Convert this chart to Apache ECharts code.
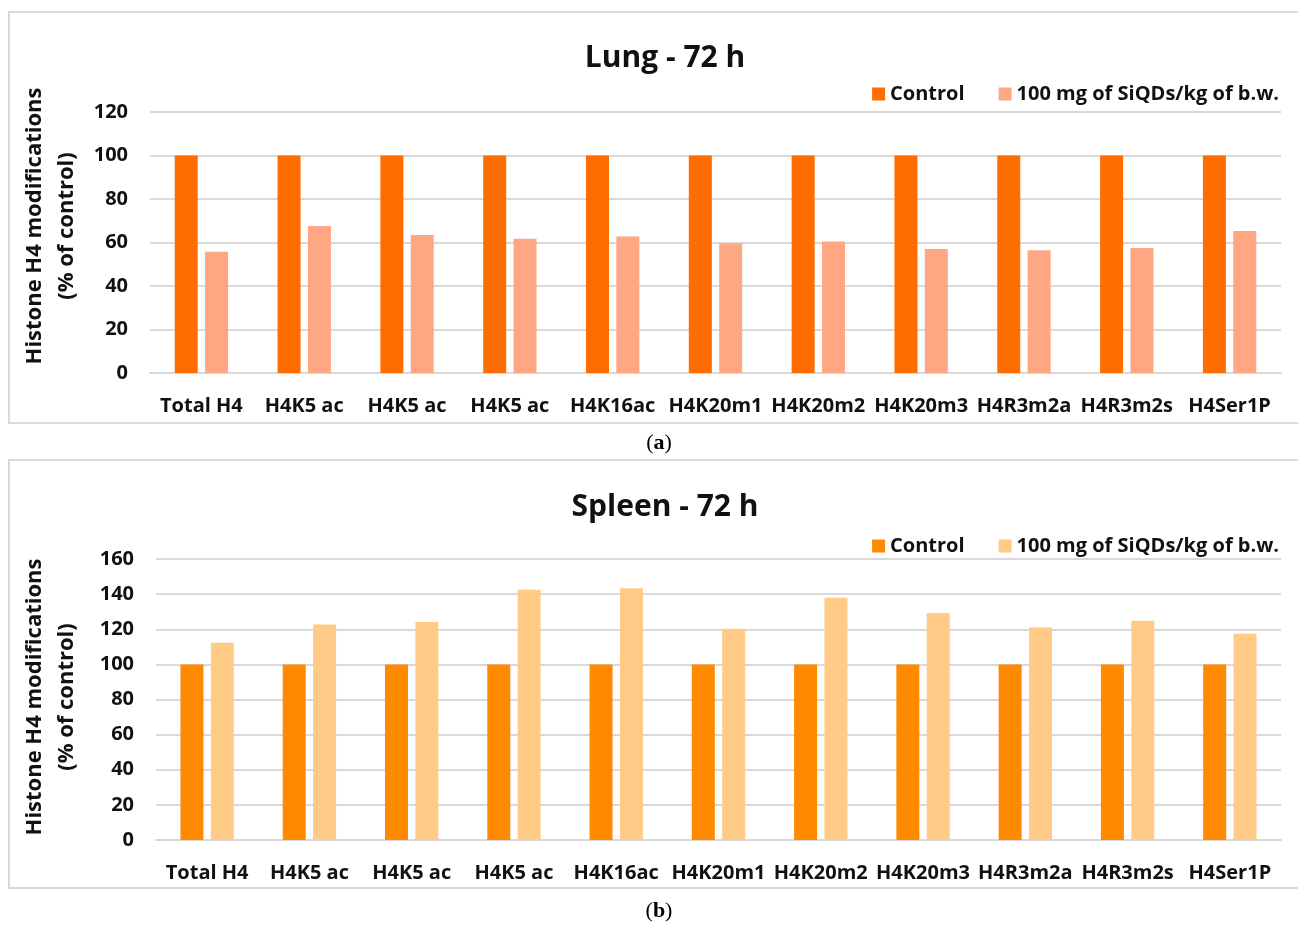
<!DOCTYPE html>
<html>
<head>
<meta charset="utf-8">
<title>Histone H4 modifications - 72 h</title>
<script src="https://cdn.jsdelivr.net/npm/echarts@6/dist/echarts.min.js"></script>
<style>
  html, body { margin: 0; padding: 0; background: #ffffff; }
  #chart { width: 1298px; height: 925px; }
</style>
</head>
<body>
<div id="chart"></div>
<script>
// Histone H4 modification categories (shared by both panels)
const categories = ['Total H4', 'H4K5 ac', 'H4K5 ac', 'H4K5 ac', 'H4K16ac', 'H4K20m1',
  'H4K20m2', 'H4K20m3', 'H4R3m2a', 'H4R3m2s', 'H4Ser1P'];

const seriesNames = ['Control', '100 mg of SiQDs/kg of b.w.'];

// Lung, 72 h (% of control)
const lungControl = [100, 100, 100, 100, 100, 100, 100, 100, 100, 100, 100];
const lungTreated = [55.8, 67.6, 63.5, 61.7, 62.8, 59.5, 60.5, 57.0, 56.4, 57.5, 65.3];

// Spleen, 72 h (% of control)
const spleenControl = [100, 100, 100, 100, 100, 100, 100, 100, 100, 100, 100];
const spleenTreated = [112.3, 122.7, 124.1, 142.5, 143.3, 120.3, 138.0, 129.2, 121.0, 124.8, 117.4];

// Value axis tick ranges
const lungTicks = { min: 0, max: 120, interval: 20 };
const spleenTicks = { min: 0, max: 160, interval: 20 };

const FONT = '"Open Sans", Lato, sans-serif';
const lungColors = ['#FF6D00', '#FFA682'];
const spleenColors = ['#FF8A00', '#FFCB86'];
const gridColor = '#D9D9D9';
const textColor = '#111111';

const chart = echarts.init(document.getElementById('chart'), null, { renderer: 'canvas' });

function valueAxis(gridIndex, ticks) {
  return {
    type: 'value', gridIndex: gridIndex,
    min: ticks.min, max: ticks.max, interval: ticks.interval,
    axisLine: { show: false }, axisTick: { show: false },
    axisLabel: { color: textColor, fontFamily: FONT, fontWeight: 'bold', fontSize: 20, margin: 22 },
    splitLine: { lineStyle: { color: gridColor, width: 2 } }
  };
}

function categoryAxis(gridIndex) {
  return {
    type: 'category', gridIndex: gridIndex, data: categories,
    axisLine: { show: true, lineStyle: { color: gridColor, width: 2 } },
    axisTick: { show: false },
    axisLabel: { color: textColor, fontFamily: FONT, fontWeight: 'bold', fontSize: 20, margin: 23, interval: 0 }
  };
}

function barSeries(name, idx, data, color) {
  return {
    type: 'bar', name: name, xAxisIndex: idx, yAxisIndex: idx,
    data: data, barWidth: 23, barGap: '32%',
    itemStyle: { color: color },
    emphasis: { disabled: true }
  };
}

function legendFor(top, colors) {
  return {
    top: top, right: 14, icon: 'rect', itemWidth: 13, itemHeight: 13, itemGap: 34,
    selectedMode: false,
    textStyle: { color: textColor, fontFamily: FONT, fontWeight: 'bold', fontSize: 20 },
    data: seriesNames.map((n, i) => ({ name: n, itemStyle: { color: colors[i] } }))
  };
}

function axisTitle(cx, cy) {
  const lines = ['Histone H4 modifications', '(% of control)'];
  return lines.map((t, i) => ({
    type: 'text', x: cx + i * 32, y: cy, rotation: Math.PI / 2,
    style: { text: t, fill: textColor, font: 'bold 22px ' + FONT, align: 'center', verticalAlign: 'middle' }
  }));
}

function panelLabel(letter, cx, cy) {
  return {
    type: 'text', x: cx, y: cy,
    style: {
      text: '{p|(}{b|' + letter + '}{p|)}', align: 'center', verticalAlign: 'middle',
      rich: {
        p: { fontFamily: '"Liberation Serif", serif', fontSize: 22, color: textColor },
        b: { fontFamily: '"Liberation Serif", serif', fontSize: 22, fontWeight: 'bold', color: textColor }
      }
    }
  };
}

const option = {
  animation: false,
  backgroundColor: '#ffffff',
  title: [
    { text: 'Lung - 72 h', left: 660, top: 38, textAlign: 'center',
      textStyle: { fontFamily: FONT, fontWeight: 'bold', fontSize: 30, color: textColor } },
    { text: 'Spleen - 72 h', left: 660, top: 487, textAlign: 'center',
      textStyle: { fontFamily: FONT, fontWeight: 'bold', fontSize: 30, color: textColor } }
  ],
  legend: [legendFor(79, lungColors), legendFor(531, spleenColors)],
  grid: [
    { left: 150, right: 17, top: 112, height: 261, containLabel: false },
    { left: 156, right: 17, top: 559, height: 281, containLabel: false }
  ],
  xAxis: [categoryAxis(0), categoryAxis(1)],
  yAxis: [valueAxis(0, lungTicks), valueAxis(1, spleenTicks)],
  series: [
    barSeries(seriesNames[0], 0, lungControl, lungColors[0]),
    barSeries(seriesNames[1], 0, lungTreated, lungColors[1]),
    barSeries(seriesNames[0], 1, spleenControl, spleenColors[0]),
    barSeries(seriesNames[1], 1, spleenTreated, spleenColors[1])
  ],
  graphic: [
    { type: 'rect', shape: { x: 9, y: 12, width: 1290, height: 411 },
      style: { fill: 'none', stroke: gridColor, lineWidth: 2 }, silent: true },
    { type: 'rect', shape: { x: 9, y: 460, width: 1290, height: 428 },
      style: { fill: 'none', stroke: gridColor, lineWidth: 2 }, silent: true },
    ...axisTitle(35, 226),
    ...axisTitle(35, 697),
    panelLabel('a', 659, 443),
    panelLabel('b', 659, 911)
  ]
};

chart.setOption(option);
</script>
</body>
</html>
